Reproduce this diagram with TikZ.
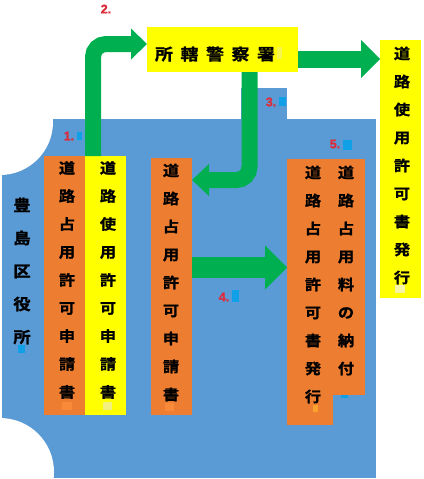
\documentclass[tikz,border=0pt]{standalone}
\usepackage{fontspec}
\newfontfamily\jp{Noto Sans CJK JP}[UprightFont=* Bold, FakeStretch=1.12, FakeBold=1.2]
\newfontfamily\lab{Liberation Sans}[FakeBold=1.5]
\usetikzlibrary{arrows.meta,calc}
\definecolor{bgblue}{HTML}{5B9BD5}
\definecolor{org}{HTML}{ED7D31}
\definecolor{yel}{HTML}{FFFF00}
\definecolor{grn}{HTML}{00B050}
\definecolor{lblred}{HTML}{DC2D3C}
\definecolor{sky}{HTML}{10A0E8}
\definecolor{org2}{HTML}{F98A3A}
\definecolor{yel2}{HTML}{F2F080}
\tikzset{
  rbox/.style={inner sep=0pt, outer sep=0pt, draw=none},
  vt/.style={font=\jp\fontsize{14.5}{28}\selectfont, align=center, inner sep=0pt},
  lbl/.style={font=\lab\bfseries\fontsize{12.5}{14}\selectfont, text=lblred, inner sep=0pt},
  garrow/.style={draw=grn, line cap=butt}
}
\begin{document}
\begin{tikzpicture}[x=1pt,y=-1pt]
\useasboundingbox (0,0) rectangle (423,479);
% background region
\fill[bgblue] (2,119) rectangle (376,478);
\fill[bgblue] (241,88) rectangle (287,119);
\fill[white] (0,122) circle[radius=53pt];
\fill[white] (0,472) circle[radius=54pt];
% boxes
\node[rbox, fill=org, minimum width=41pt, minimum height=259pt] (A) at (64.5,285.5) {};
\node[rbox, fill=yel, minimum width=41pt, minimum height=259pt] (B) at (105.5,285.5) {};
\node[rbox, fill=org, minimum width=41pt, minimum height=257pt] (C) at (171.5,286.5) {};
\node[rbox, fill=org, minimum width=78pt, minimum height=236pt] (D) at (326,277) {};
\fill[org] (287,394) rectangle (333,425);
\node[rbox, fill=yel, minimum width=151pt, minimum height=45pt] (K) at (222.5,49.5) {};
\node[rbox, fill=yel, minimum width=41pt, minimum height=258pt] (R) at (400.5,169) {};
% arrows
\draw[garrow, line width=16pt, rounded corners=13pt,
  -{Triangle[width=31pt,length=16pt,line width=0pt]}]
  ([xshift=-12.5pt]B.north) |- ([yshift=5.5pt]K.west);
\draw[garrow, line width=17pt,
  -{Triangle[width=38pt,length=19pt,line width=0pt]}]
  ([yshift=-9.5pt]K.east) -- ([yshift=-9.5pt]K.east -| R.west);
\draw[garrow, line width=16pt, rounded corners=13pt,
  -{Triangle[width=32pt,length=17pt,line width=0pt]}]
  ([xshift=27pt]K.south) |- ([yshift=106.5pt]C.east);
\draw[garrow, line width=21pt,
  -{Triangle[width=44pt,length=22pt,line width=0pt]}]
  ([yshift=19pt]C.east) -- ([yshift=19pt]C.east -| D.west);
% small marks
\fill[org2] (62,402) rectangle (72,410);
\fill[yel2] (103,402) rectangle (112,410);
\fill[org2] (165,403) rectangle (174,411);
\fill[org2!80!yellow] (313,405) rectangle (318,412);
\fill[sky] (341,395) rectangle (348,398);
\fill[yel2!60!yellow] (277,47) rectangle (282,59);
\fill[yel2!70!white] (395,285) rectangle (405,293);
\fill[sky] (18,345) rectangle (25,353);
% texts
\node[vt] (tA) at (67,280) {道\\路\\占\\用\\許\\可\\申\\請\\書};
\node[vt] (tB) at (108,280) {道\\路\\使\\用\\許\\可\\申\\請\\書};
\node[vt] (tC) at (171,282.5) {道\\路\\占\\用\\許\\可\\申\\請\\書};
\node[vt] (tD1) at (313,284.5) {道\\路\\占\\用\\許\\可\\書\\発\\行};
\node[vt] (tD2) at (346,270.5) {道\\路\\占\\用\\料\\の\\納\\付};
\node[vt] (tR) at (402,165.5) {道\\路\\使\\用\\許\\可\\書\\発\\行};
\node[vt, font=\jp\fontsize{15.5}{33}\selectfont] (tT) at (22,271) {豊\\島\\区\\役\\所};
\node[font=\jp\fontsize{16}{18}\selectfont, inner sep=0pt] (tK) at (215,54)
  {所\hspace{7.6pt}轄\hspace{7.6pt}警\hspace{7.6pt}察\hspace{7.6pt}署};
% step labels
\node[lbl] (l1) at (69,136) {1.};
\fill[sky] (77,132) rectangle (82,140);
\node[lbl] (l2) at (106,9) {2.};
\node[lbl] (l3) at (271,102) {3.};
\fill[sky] (279,97) rectangle (286,106);
\node[lbl] (l4) at (224,297) {4.};
\fill[sky] (232,290) rectangle (239,302);
\node[lbl] (l5) at (335,144) {5.};
\fill[sky] (343,140) rectangle (352,150);
\end{tikzpicture}
\end{document}
